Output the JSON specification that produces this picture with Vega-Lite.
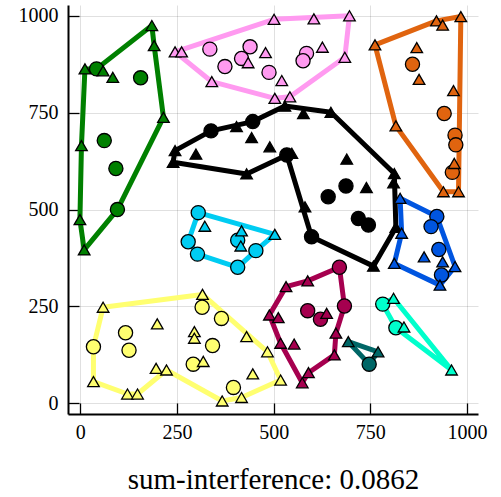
{
"$schema":"https://vega.github.io/schema/vega-lite/v6.json",
"width":410,"height":409,
"autosize":{"type":"none"},
"padding":{"left":68,"top":5,"right":23,"bottom":83},
"background":"white",
"config":{"view":{"stroke":null},"font":"Liberation Serif"},
"datasets":{
"points":[
{"cluster":"green","shape":"circle","x":42,"y":863},{"cluster":"green","shape":"circle","x":156,"y":840},{"cluster":"green","shape":"circle","x":62,"y":678},{"cluster":"green","shape":"circle","x":92,"y":606},{"cluster":"green","shape":"circle","x":96,"y":500},
{"cluster":"green","shape":"triangle","x":185,"y":975},{"cluster":"green","shape":"triangle","x":191,"y":923},{"cluster":"green","shape":"triangle","x":12,"y":863},{"cluster":"green","shape":"triangle","x":59,"y":858},{"cluster":"green","shape":"triangle","x":84,"y":841},{"cluster":"green","shape":"triangle","x":215,"y":738},{"cluster":"green","shape":"triangle","x":3,"y":665},{"cluster":"green","shape":"triangle","x":-1,"y":474},{"cluster":"green","shape":"triangle","x":10,"y":396},
{"cluster":"pink","shape":"circle","x":335,"y":914},{"cluster":"pink","shape":"circle","x":439,"y":920},{"cluster":"pink","shape":"circle","x":417,"y":890},{"cluster":"pink","shape":"circle","x":374,"y":869},{"cluster":"pink","shape":"circle","x":488,"y":854},{"cluster":"pink","shape":"circle","x":585,"y":903},{"cluster":"pink","shape":"circle","x":576,"y":884},
{"cluster":"pink","shape":"triangle","x":245,"y":907},{"cluster":"pink","shape":"triangle","x":262,"y":907},{"cluster":"pink","shape":"triangle","x":434,"y":879},{"cluster":"pink","shape":"triangle","x":479,"y":905},{"cluster":"pink","shape":"triangle","x":340,"y":830},{"cluster":"pink","shape":"triangle","x":503,"y":787},{"cluster":"pink","shape":"triangle","x":501,"y":991},{"cluster":"pink","shape":"triangle","x":604,"y":992},{"cluster":"pink","shape":"triangle","x":696,"y":1000},{"cluster":"pink","shape":"triangle","x":626,"y":919},{"cluster":"pink","shape":"triangle","x":684,"y":893},{"cluster":"pink","shape":"triangle","x":521,"y":833},{"cluster":"pink","shape":"triangle","x":542,"y":791},
{"cluster":"orange","shape":"circle","x":859,"y":875},{"cluster":"orange","shape":"circle","x":941,"y":748},{"cluster":"orange","shape":"circle","x":969,"y":692},{"cluster":"orange","shape":"circle","x":971,"y":667},{"cluster":"orange","shape":"circle","x":962,"y":596},
{"cluster":"orange","shape":"triangle","x":762,"y":925},{"cluster":"orange","shape":"triangle","x":870,"y":918},{"cluster":"orange","shape":"triangle","x":876,"y":836},{"cluster":"orange","shape":"triangle","x":921,"y":987},{"cluster":"orange","shape":"triangle","x":937,"y":976},{"cluster":"orange","shape":"triangle","x":984,"y":998},{"cluster":"orange","shape":"triangle","x":965,"y":807},{"cluster":"orange","shape":"triangle","x":816,"y":716},{"cluster":"orange","shape":"triangle","x":967,"y":619},{"cluster":"orange","shape":"triangle","x":939,"y":546},{"cluster":"orange","shape":"triangle","x":978,"y":546},
{"cluster":"black","shape":"circle","x":338,"y":703},{"cluster":"black","shape":"circle","x":446,"y":727},{"cluster":"black","shape":"circle","x":534,"y":641},{"cluster":"black","shape":"circle","x":687,"y":561},{"cluster":"black","shape":"circle","x":641,"y":533},{"cluster":"black","shape":"circle","x":719,"y":477},{"cluster":"black","shape":"circle","x":745,"y":460},{"cluster":"black","shape":"circle","x":598,"y":430},
{"cluster":"black","shape":"triangle","x":404,"y":714},{"cluster":"black","shape":"triangle","x":443,"y":686},{"cluster":"black","shape":"triangle","x":490,"y":662},{"cluster":"black","shape":"triangle","x":245,"y":652},{"cluster":"black","shape":"triangle","x":299,"y":643},{"cluster":"black","shape":"triangle","x":240,"y":622},{"cluster":"black","shape":"triangle","x":430,"y":592},{"cluster":"black","shape":"triangle","x":529,"y":767},{"cluster":"black","shape":"triangle","x":577,"y":748},{"cluster":"black","shape":"triangle","x":648,"y":751},{"cluster":"black","shape":"triangle","x":547,"y":645},{"cluster":"black","shape":"triangle","x":689,"y":630},{"cluster":"black","shape":"triangle","x":740,"y":557},{"cluster":"black","shape":"triangle","x":812,"y":593},{"cluster":"black","shape":"triangle","x":810,"y":569},{"cluster":"black","shape":"triangle","x":581,"y":507},{"cluster":"black","shape":"triangle","x":816,"y":454},{"cluster":"black","shape":"triangle","x":758,"y":354},
{"cluster":"cyan","shape":"circle","x":305,"y":492},{"cluster":"cyan","shape":"circle","x":279,"y":417},{"cluster":"cyan","shape":"circle","x":303,"y":385},{"cluster":"cyan","shape":"circle","x":407,"y":421},{"cluster":"cyan","shape":"circle","x":454,"y":394},{"cluster":"cyan","shape":"circle","x":407,"y":351},
{"cluster":"cyan","shape":"triangle","x":322,"y":457},{"cluster":"cyan","shape":"triangle","x":417,"y":445},{"cluster":"cyan","shape":"triangle","x":415,"y":406},{"cluster":"cyan","shape":"triangle","x":503,"y":436},
{"cluster":"blue","shape":"circle","x":922,"y":482},{"cluster":"blue","shape":"circle","x":907,"y":456},{"cluster":"blue","shape":"circle","x":927,"y":397},{"cluster":"blue","shape":"circle","x":934,"y":331},
{"cluster":"blue","shape":"triangle","x":827,"y":529},{"cluster":"blue","shape":"triangle","x":831,"y":439},{"cluster":"blue","shape":"triangle","x":889,"y":378},{"cluster":"blue","shape":"triangle","x":937,"y":365},{"cluster":"blue","shape":"triangle","x":969,"y":353},{"cluster":"blue","shape":"triangle","x":930,"y":305},{"cluster":"blue","shape":"triangle","x":812,"y":361},
{"cluster":"yellow","shape":"circle","x":315,"y":248},{"cluster":"yellow","shape":"circle","x":365,"y":219},{"cluster":"yellow","shape":"circle","x":117,"y":182},{"cluster":"yellow","shape":"circle","x":126,"y":137},{"cluster":"yellow","shape":"circle","x":34,"y":146},{"cluster":"yellow","shape":"circle","x":342,"y":149},{"cluster":"yellow","shape":"circle","x":292,"y":101},{"cluster":"yellow","shape":"circle","x":396,"y":41},
{"cluster":"yellow","shape":"triangle","x":59,"y":248},{"cluster":"yellow","shape":"triangle","x":316,"y":281},{"cluster":"yellow","shape":"triangle","x":199,"y":205},{"cluster":"yellow","shape":"triangle","x":295,"y":185},{"cluster":"yellow","shape":"triangle","x":295,"y":168},{"cluster":"yellow","shape":"triangle","x":430,"y":172},{"cluster":"yellow","shape":"triangle","x":484,"y":133},{"cluster":"yellow","shape":"triangle","x":318,"y":108},{"cluster":"yellow","shape":"triangle","x":196,"y":90},{"cluster":"yellow","shape":"triangle","x":223,"y":86},{"cluster":"yellow","shape":"triangle","x":446,"y":76},{"cluster":"yellow","shape":"triangle","x":34,"y":56},{"cluster":"yellow","shape":"triangle","x":122,"y":24},{"cluster":"yellow","shape":"triangle","x":148,"y":24},{"cluster":"yellow","shape":"triangle","x":367,"y":6},{"cluster":"yellow","shape":"triangle","x":417,"y":15},{"cluster":"yellow","shape":"triangle","x":518,"y":60},
{"cluster":"crimson","shape":"circle","x":670,"y":351},{"cluster":"crimson","shape":"circle","x":683,"y":251},{"cluster":"crimson","shape":"circle","x":588,"y":239},{"cluster":"crimson","shape":"circle","x":621,"y":217},
{"cluster":"crimson","shape":"triangle","x":588,"y":316},{"cluster":"crimson","shape":"triangle","x":532,"y":301},{"cluster":"crimson","shape":"triangle","x":637,"y":232},{"cluster":"crimson","shape":"triangle","x":489,"y":228},{"cluster":"crimson","shape":"triangle","x":512,"y":221},{"cluster":"crimson","shape":"triangle","x":661,"y":181},{"cluster":"crimson","shape":"triangle","x":518,"y":155},{"cluster":"crimson","shape":"triangle","x":553,"y":153},{"cluster":"crimson","shape":"triangle","x":657,"y":125},{"cluster":"crimson","shape":"triangle","x":590,"y":79},{"cluster":"crimson","shape":"triangle","x":574,"y":53},
{"cluster":"teal","shape":"circle","x":747,"y":101},{"cluster":"teal","shape":"triangle","x":693,"y":159},{"cluster":"teal","shape":"triangle","x":770,"y":133},
{"cluster":"aqua","shape":"circle","x":782,"y":256},{"cluster":"aqua","shape":"circle","x":816,"y":195},{"cluster":"aqua","shape":"triangle","x":810,"y":271},{"cluster":"aqua","shape":"triangle","x":837,"y":197},{"cluster":"aqua","shape":"triangle","x":960,"y":86}
],
"hull":[
{"cluster":"green","order":1,"x":185,"y":975},{"cluster":"green","order":2,"x":191,"y":923},{"cluster":"green","order":3,"x":215,"y":738},{"cluster":"green","order":4,"x":96,"y":500},{"cluster":"green","order":5,"x":10,"y":396},{"cluster":"green","order":6,"x":-1,"y":474},{"cluster":"green","order":7,"x":3,"y":665},{"cluster":"green","order":8,"x":12,"y":863},{"cluster":"green","order":9,"x":42,"y":863},{"cluster":"green","order":10,"x":185,"y":975},
{"cluster":"pink","order":1,"x":245,"y":907},{"cluster":"pink","order":2,"x":501,"y":991},{"cluster":"pink","order":3,"x":696,"y":1000},{"cluster":"pink","order":4,"x":684,"y":893},{"cluster":"pink","order":5,"x":542,"y":791},{"cluster":"pink","order":6,"x":503,"y":787},{"cluster":"pink","order":7,"x":340,"y":830},{"cluster":"pink","order":8,"x":245,"y":907},
{"cluster":"orange","order":1,"x":762,"y":925},{"cluster":"orange","order":2,"x":921,"y":987},{"cluster":"orange","order":3,"x":984,"y":998},{"cluster":"orange","order":4,"x":978,"y":546},{"cluster":"orange","order":5,"x":939,"y":546},{"cluster":"orange","order":6,"x":816,"y":716},{"cluster":"orange","order":7,"x":762,"y":925},
{"cluster":"black","order":1,"x":245,"y":652},{"cluster":"black","order":2,"x":338,"y":703},{"cluster":"black","order":3,"x":446,"y":727},{"cluster":"black","order":4,"x":529,"y":767},{"cluster":"black","order":5,"x":648,"y":751},{"cluster":"black","order":6,"x":812,"y":593},{"cluster":"black","order":7,"x":816,"y":454},{"cluster":"black","order":8,"x":758,"y":354},{"cluster":"black","order":9,"x":598,"y":430},{"cluster":"black","order":10,"x":534,"y":641},{"cluster":"black","order":11,"x":430,"y":592},{"cluster":"black","order":12,"x":240,"y":622},{"cluster":"black","order":13,"x":245,"y":652},
{"cluster":"cyan","order":1,"x":305,"y":492},{"cluster":"cyan","order":2,"x":503,"y":436},{"cluster":"cyan","order":3,"x":454,"y":394},{"cluster":"cyan","order":4,"x":407,"y":351},{"cluster":"cyan","order":5,"x":303,"y":385},{"cluster":"cyan","order":6,"x":279,"y":417},{"cluster":"cyan","order":7,"x":305,"y":492},
{"cluster":"blue","order":1,"x":827,"y":529},{"cluster":"blue","order":2,"x":922,"y":482},{"cluster":"blue","order":3,"x":969,"y":353},{"cluster":"blue","order":4,"x":930,"y":305},{"cluster":"blue","order":5,"x":812,"y":361},{"cluster":"blue","order":6,"x":831,"y":439},{"cluster":"blue","order":7,"x":827,"y":529},
{"cluster":"yellow","order":1,"x":59,"y":248},{"cluster":"yellow","order":2,"x":316,"y":281},{"cluster":"yellow","order":3,"x":484,"y":133},{"cluster":"yellow","order":4,"x":518,"y":60},{"cluster":"yellow","order":5,"x":417,"y":15},{"cluster":"yellow","order":6,"x":367,"y":6},{"cluster":"yellow","order":7,"x":223,"y":86},{"cluster":"yellow","order":8,"x":148,"y":24},{"cluster":"yellow","order":9,"x":122,"y":24},{"cluster":"yellow","order":10,"x":34,"y":56},{"cluster":"yellow","order":11,"x":34,"y":146},{"cluster":"yellow","order":12,"x":59,"y":248},
{"cluster":"crimson","order":1,"x":670,"y":351},{"cluster":"crimson","order":2,"x":683,"y":251},{"cluster":"crimson","order":3,"x":661,"y":181},{"cluster":"crimson","order":4,"x":657,"y":125},{"cluster":"crimson","order":5,"x":590,"y":79},{"cluster":"crimson","order":6,"x":574,"y":53},{"cluster":"crimson","order":7,"x":518,"y":155},{"cluster":"crimson","order":8,"x":489,"y":228},{"cluster":"crimson","order":9,"x":532,"y":301},{"cluster":"crimson","order":10,"x":588,"y":316},{"cluster":"crimson","order":11,"x":670,"y":351},
{"cluster":"teal","order":1,"x":693,"y":159},{"cluster":"teal","order":2,"x":770,"y":133},{"cluster":"teal","order":3,"x":747,"y":101},{"cluster":"teal","order":4,"x":693,"y":159},
{"cluster":"aqua","order":1,"x":782,"y":256},{"cluster":"aqua","order":2,"x":810,"y":271},{"cluster":"aqua","order":3,"x":960,"y":86},{"cluster":"aqua","order":4,"x":816,"y":195},{"cluster":"aqua","order":5,"x":782,"y":256}
]
},
"layer":[
{"data":{"name":"hull"},
 "mark":{"type":"line","strokeWidth":5,"strokeJoin":"round","strokeCap":"round"},
 "encoding":{
  "x":{"field":"x","type":"quantitative","scale":{"domain":[-31.8,1028.4],"nice":false,"zero":false},
   "axis":{"values":[0,250,500,750,1000],"format":"d","grid":true,"gridColor":"#000000","gridOpacity":0.12,"gridWidth":1,
    "domainColor":"#000000","domainWidth":2,"tickColor":"#000000","tickSize":-11,"tickWidth":1.3,
    "labelPadding":19,"labelFontSize":20,"labelFont":"Liberation Serif","labelColor":"#000000",
    "title":"sum-interference: 0.0862","titleFontSize":29,"titleFontWeight":"normal","titleFont":"Liberation Serif","titleColor":"#000000","titleY":74,"titleBaseline":"alphabetic"}},
  "y":{"field":"y","type":"quantitative","scale":{"domain":[-27.6,1027.9],"nice":false,"zero":false},
   "axis":{"values":[0,250,500,750,1000],"format":"d","grid":true,"gridColor":"#000000","gridOpacity":0.12,"gridWidth":1,
    "domainColor":"#000000","domainWidth":2,"tickColor":"#000000","tickSize":-11,"tickWidth":1.3,
    "labelPadding":21,"labelFontSize":20,"labelFont":"Liberation Serif","labelColor":"#000000","title":null}},
  "stroke":{"field":"cluster","type":"nominal","legend":null,
   "scale":{"domain":["green","pink","orange","black","cyan","blue","yellow","crimson","teal","aqua"],
    "range":["#008000","#FF9AF0","#E0640F","#000000","#00CCF2","#0055E0","#FFFF70","#A6004F","#006666","#00FFCC"]}},
  "detail":{"field":"cluster"},
  "order":{"field":"order","type":"quantitative"}
 }},
{"data":{"name":"points"},
 "mark":{"type":"point","filled":true,"stroke":"#000000","strokeWidth":1.3,"opacity":1,"fillOpacity":1,"strokeOpacity":1},
 "encoding":{
  "x":{"field":"x","type":"quantitative"},
  "y":{"field":"y","type":"quantitative"},
  "fill":{"field":"cluster","type":"nominal","legend":null,
   "scale":{"domain":["green","pink","orange","black","cyan","blue","yellow","crimson","teal","aqua"],
    "range":["#008000","#FF9AF0","#E0640F","#000000","#00CCF2","#0055E0","#FFFF70","#A6004F","#006666","#00FFCC"]}},
  "shape":{"field":"shape","type":"nominal","legend":null,"scale":{"domain":["circle","triangle"],"range":["circle","triangle-up"]}},
  "size":{"field":"shape","type":"nominal","legend":null,"scale":{"domain":["circle","triangle"],"range":[200,135]}}
 }}
]
}
